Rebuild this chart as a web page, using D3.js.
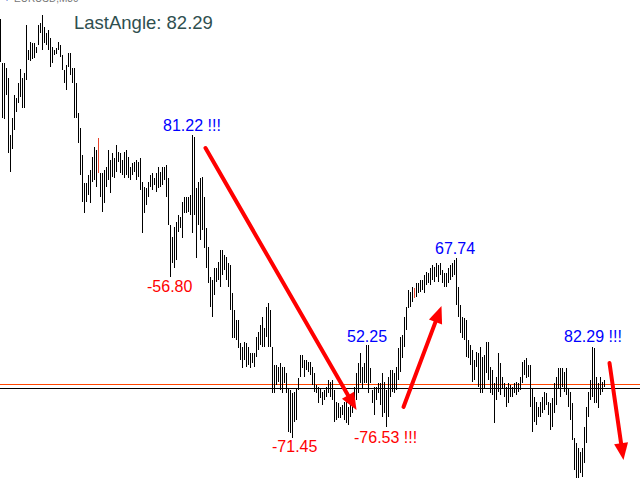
<!DOCTYPE html>
<html>
<head>
<meta charset="utf-8">
<script src="https://cdn.jsdelivr.net/npm/d3@7"></script>
<style>
html,body{margin:0;padding:0;background:#fff;}
svg{display:block;}
</style>
</head>
<body>
<script>
// EURUSD M30 bars: high / low in pips above base level (one bar per slot)
const highs = [461,417,417,412,402,345,362,385,382,397,411,402,407,455,430,438,437,437,433,455,
457,465,453,447,450,442,433,430,432,438,435,425,410,415,427,427,412,412,397,367,
352,325,297,297,305,310,323,333,330,342,307,307,310,313,330,320,327,322,335,328,
327,320,328,330,323,313,317,318,320,318,322,298,293,292,298,305,307,302,307,313,
308,313,313,315,302,255,243,253,258,265,263,278,283,283,283,285,345,343,292,298,
302,303,283,252,233,203,200,212,212,218,230,230,225,223,217,215,187,170,160,160,
137,133,138,137,133,127,127,127,143,148,155,163,152,173,177,170,133,115,115,113,
117,113,113,107,92,90,87,88,92,102,125,125,120,120,118,118,113,107,95,93,
92,88,90,93,100,98,100,90,78,77,73,75,78,78,73,77,83,93,107,117,
127,113,117,135,135,112,90,93,93,97,97,107,98,90,103,110,110,107,113,132,
143,145,163,173,190,188,193,192,197,197,200,200,205,208,207,212,215,213,217,215,
217,210,207,207,212,215,217,220,222,193,175,163,162,160,140,135,130,120,128,127,
133,123,125,138,138,113,110,97,103,127,117,103,97,93,97,95,93,97,98,97,
103,118,120,122,115,115,92,83,78,73,78,83,88,87,78,77,82,97,103,112,
112,112,108,112,92,88,77,42,37,32,28,32,53,73,88,100,133,132,103,97,
103,98,100];
const lows = [418,362,361,385,327,308,331,350,368,377,383,372,372,400,420,419,421,422,427,435,
447,430,437,435,430,413,417,425,426,430,423,410,397,390,413,405,397,362,362,337,
305,278,267,278,285,277,298,300,293,307,283,268,277,293,300,287,303,302,308,318,
307,305,302,305,302,300,305,308,300,303,290,247,267,275,283,293,290,295,288,292,
293,295,300,283,255,203,217,212,220,248,252,242,267,267,268,265,247,265,222,255,
240,250,232,212,197,173,163,185,198,200,193,205,210,200,193,170,142,142,140,132,
120,112,120,113,115,112,117,113,123,130,135,133,133,143,133,133,87,87,95,98,
90,87,97,87,48,47,42,58,60,90,103,112,103,110,108,105,95,88,87,77,
82,75,80,83,87,83,80,58,60,62,62,65,60,57,55,63,67,73,80,87,
97,92,97,97,87,97,77,65,80,87,75,63,67,53,63,83,88,87,90,100,
108,122,133,150,172,173,178,182,183,187,188,190,187,195,197,195,200,198,203,198,
205,197,193,193,197,200,203,205,175,163,147,142,140,123,122,115,98,100,113,93,
87,87,92,107,100,87,85,57,80,88,85,92,83,73,77,83,83,87,85,88,
90,97,105,102,103,73,48,58,55,63,63,67,70,75,65,50,53,67,75,92,
83,93,88,85,73,60,40,10,2,2,7,3,17,37,63,80,83,77,77,72,
85,88,93];
const redBars = [49, 207];

// horizontal levels (pips)
const levelValues = [96, 92];
const levelColors = ["#ff4500", "#000000"];

// angle labels: text, bar index, level, colour
const labelTexts  = ["81.22 !!!", "-56.80", "-71.45", "52.25", "-76.53 !!!", "67.74", "82.29 !!!"];
const labelBars   = [81.25, 73.25, 135.75, 173.25, 176.75, 217.25, 281.75];
const labelLevels = [349, 188, 28, 138, 37, 226, 138];
const labelColors = ["#0000ff", "#ff0000", "#ff0000", "#0000ff", "#ff0000", "#0000ff", "#0000ff"];

// trend arrows: [start bar, start level, end bar, end level]
const arrows = [
  [102.5, 332, 178, 70],
  [201.5, 73, 220.5, 174],
  [304.5, 117, 311.5, 20]
];

const W = 640, H = 480;
const N = highs.length;
const svg = d3.select("body").append("svg").attr("width", W).attr("height", H);
svg.append("rect").attr("width", W).attr("height", H).attr("fill", "#fff");

const x = d3.scaleLinear().domain([0, N - 1]).range([0.5, 2 * (N - 1) + 0.5]);
const y = d3.scaleLinear().domain([0, 480]).range([480, 0]);

// levels
svg.selectAll("line.level").data(levelValues).enter().append("line")
  .attr("class", "level")
  .attr("x1", 0).attr("x2", W)
  .attr("y1", d => Math.round(y(d)) + 0.5).attr("y2", d => Math.round(y(d)) + 0.5)
  .attr("stroke", (d, i) => levelColors[i]).attr("stroke-width", 1);

// bars
svg.selectAll("line.bar").data(d3.range(N)).enter().append("line")
  .attr("class", "bar")
  .attr("x1", i => x(i)).attr("x2", i => x(i))
  .attr("y1", i => y(highs[i])).attr("y2", i => y(lows[i]))
  .attr("stroke", i => redBars.includes(i) ? "#e8442c" : "#000")
  .attr("stroke-width", 1)
  .attr("shape-rendering", "crispEdges");

// arrows
arrows.forEach(a => {
  const x1 = x(a[0]), y1 = y(a[1]), x2 = x(a[2]), y2 = y(a[3]);
  const ang = Math.atan2(y2 - y1, x2 - x1);
  const hl = 17, hw = 7;
  const bx = x2 - hl * Math.cos(ang), by = y2 - hl * Math.sin(ang);
  svg.append("line")
    .attr("x1", x1).attr("y1", y1).attr("x2", bx).attr("y2", by)
    .attr("stroke", "#ff0000").attr("stroke-width", 4).attr("stroke-linecap", "round");
  const px = -Math.sin(ang), py = Math.cos(ang);
  svg.append("polygon")
    .attr("points", [[x2, y2], [bx + px * hw, by + py * hw], [bx - px * hw, by - py * hw]].map(p => p.join(",")).join(" "))
    .attr("fill", "#ff0000");
});

// labels
svg.selectAll("text.lbl").data(labelTexts).enter().append("text")
  .attr("class", "lbl")
  .attr("x", (d, i) => x(labelBars[i])).attr("y", (d, i) => y(labelLevels[i]))
  .attr("fill", (d, i) => labelColors[i])
  .attr("font-family", "'Liberation Sans', Arial, sans-serif")
  .attr("font-size", 16)
  .text(d => d);

// header
svg.append("text").attr("x", 74).attr("y", 29)
  .attr("font-family", "'Liberation Sans', Arial, sans-serif")
  .attr("font-size", 18.5).attr("fill", "#2f4f4f")
  .text("LastAngle: 82.29");
svg.append("text").attr("x", 14).attr("y", 2)
  .attr("font-family", "'Liberation Sans', Arial, sans-serif")
  .attr("font-size", 10).attr("fill", "#777")
  .text("EURUSD,M30");
svg.append("text").attr("x", 4).attr("y", 2)
  .attr("font-family", "'Liberation Sans', Arial, sans-serif")
  .attr("font-size", 10).attr("fill", "#3355cc")
  .text("+");
</script>
</body>
</html>
